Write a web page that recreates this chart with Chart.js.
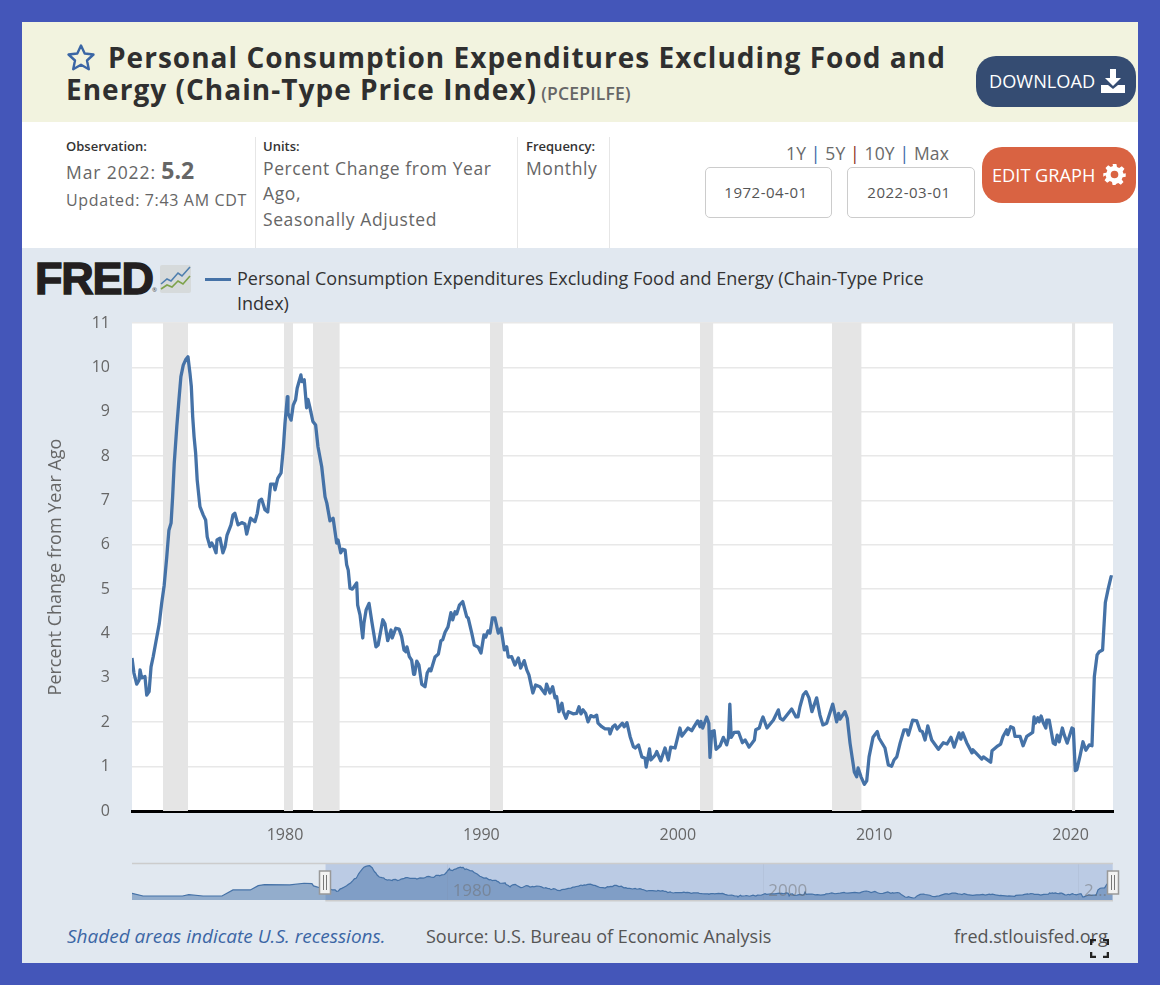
<!DOCTYPE html>
<html>
<head>
<meta charset="utf-8">
<title>PCEPILFE</title>
<script src="https://cdn.jsdelivr.net/npm/chart.js@4"></script>
<style>
html, body { margin: 0; padding: 0; width: 1160px; height: 985px; overflow: hidden; background: #4456b9; }
#page { position: absolute; left: 22px; top: 22px; width: 1116px; height: 941px; background: #e1e8f0; overflow: hidden; }
.abs { position: absolute; white-space: nowrap; }
#page * { font-family: "Open Sans", "Noto Sans", sans-serif; }
#head { left: 0; top: 0; width: 1116px; height: 100px; background: #f2f3df; }
#info { left: 0; top: 100px; width: 1116px; height: 126px; background: #fff; }
.title { font-weight: 700; font-size: 28px; line-height: 32px; color: #2f2f2f; letter-spacing: 1.02px; }
.lab { font-weight: 600; font-size: 13px; color: #333; line-height: 16px; }
.val { font-size: 17.5px; color: #666; letter-spacing: 0.6px; line-height: 25px; }
.sep { width: 1px; background: #e6e6e6; top: 115px; height: 111px; }
.dateBox { height: 49px; top: 145px; border: 1px solid #ccc; border-radius: 5px; background: #fff; font-size: 15px; line-height: 49px; color: #555; letter-spacing: 0.5px; text-align: center; }
.btn { color: #fff; font-size: 18.2px; border-radius: 20px; }
canvas { position: absolute; display: block; }
</style>
</head>
<body>
<div id="page">
  <div class="abs" id="head"></div>
  <div class="abs" id="info"></div>

  <svg class="abs" style="left:44px;top:21px" width="30" height="30" viewBox="0 0 30 30"><path d="M15 2.5l3.700 8 8.800 1-6.500 6 1.800 8.700-7.800-4.400-7.800 4.400 1.800-8.700-6.500-6 8.800-1z" fill="none" stroke="#3b66a5" stroke-width="2.400" stroke-linejoin="round"/></svg>
  <div class="abs title" style="left:86px;top:19px">Personal Consumption Expenditures Excluding Food and</div>
  <div class="abs title" style="left:44px;top:51px">Energy (Chain-Type Price Index) <span style="font-size:17.5px;font-weight:600;color:#666;letter-spacing:0.2px;margin-left:-4px">(PCEPILFE)</span></div>

  <div class="abs btn" style="left:954px;top:34px;width:160px;height:51px;background:#354c72"></div>
  <div class="abs btn" style="left:967px;top:34px;line-height:51px">DOWNLOAD</div>
  <svg class="abs" style="left:1078px;top:46px" width="26" height="26" viewBox="0 0 26 26"><path d="M10 1h6v9h5l-8 8-8-8h5z" fill="#fff"/><path d="M1 17h7l5 4 5-4h7v8H1z" fill="#fff"/></svg>

  <div class="abs lab" style="left:44px;top:116px">Observation:</div>
  <div class="abs val" style="left:44px;top:136px;letter-spacing:0.9px">Mar 2022: <span style="font-size:23px;font-weight:700;color:#666;letter-spacing:0">5.2</span></div>
  <div class="abs val" style="left:44px;top:166px;font-size:16px;letter-spacing:0.65px">Updated: 7:43 AM CDT</div>
  <div class="abs sep" style="left:233px"></div>
  <div class="abs lab" style="left:241px;top:116px">Units:</div>
  <div class="abs val" style="left:241px;top:134px">Percent Change from Year</div>
  <div class="abs val" style="left:241px;top:159px">Ago,</div>
  <div class="abs val" style="left:241px;top:185px">Seasonally Adjusted</div>
  <div class="abs sep" style="left:495px"></div>
  <div class="abs lab" style="left:504px;top:116px">Frequency:</div>
  <div class="abs val" style="left:504px;top:134px">Monthly</div>
  <div class="abs sep" style="left:587px"></div>

  <div class="abs val" style="left:764px;top:119px;color:#6a6a6a;letter-spacing:0.15px">1Y <span style="color:#3b66a5">|</span> 5Y <span style="color:#8c2a1c">|</span> 10Y <span style="color:#3b66a5">|</span> Max</div>
  <div class="abs dateBox" style="left:683px;width:125px;text-indent:-5px">1972-04-01</div>
  <div class="abs dateBox" style="left:825px;width:126px;text-indent:-4px">2022-03-01</div>
  <div class="abs btn" style="left:960px;top:125px;width:154px;height:56px;background:#d96342"></div>
  <div class="abs btn" style="left:970px;top:125px;line-height:56px">EDIT GRAPH</div>
  <svg class="abs" style="left:1081px;top:141px" width="23" height="23" viewBox="0 0 24 24"><path fill="#fff" fill-rule="evenodd" d="M10 1h4l.6 3.200 2.300 1 2.700-1.900 2.800 2.800-1.900 2.700 1 2.300L23.700 10.700v3.600l-3.200.6-1 2.300 1.900 2.700-2.800 2.800-2.700-1.900-2.300 1L13 23h-3l-.6-3.200-2.300-1-2.700 1.900-2.800-2.800 1.900-2.700-1-2.300L.3 14.300v-3.600l3.200-.6 1-2.300L2.600 5.100l2.800-2.800 2.700 1.900 2.300-1zM12 8a4 4 0 1 0 0 8 4 4 0 0 0 0-8z"/></svg>

  <div class="abs" style="left:13px;top:232px;font-family:'Liberation Sans',sans-serif;font-weight:700;font-size:45px;line-height:50px;letter-spacing:-1.2px;color:#231f20;-webkit-text-stroke:1.4px #231f20">FRED</div>
  <div class="abs" style="left:130px;top:264px;font-size:6px;line-height:8px;color:#444">&reg;</div>
  <svg class="abs" style="left:137px;top:242px" width="33" height="30" viewBox="0 0 33 30"><rect x="1" y="1" width="31" height="28" rx="2" fill="#d6dadb"/><polyline points="2,20 8,15 12,17 19,9 23,12 31,3" fill="none" stroke="#4f7fae" stroke-width="1.600"/><polyline points="2,25 8,21 13,23 19,17 24,20 31,12" fill="none" stroke="#7da24a" stroke-width="1.600"/></svg>
  <div class="abs" style="left:183px;top:256px;width:26px;height:3px;background:#4572a7"></div>
  <div class="abs" style="left:215px;top:244px;font-size:18px;line-height:25px;color:#333;font-weight:500">Personal Consumption Expenditures Excluding Food and Energy (Chain-Type Price<br>Index)</div>

  <canvas id="mainChart" width="1116" height="540" style="left:0;top:288px;width:1116px;height:540px"></canvas>
  <canvas id="navChart" width="1116" height="48" style="left:0;top:838px;width:1116px;height:48px"></canvas>

  <div class="abs" style="left:45px;top:901px;font-size:19px;font-style:italic;color:#3b66a5">Shaded areas indicate U.S. recessions.</div>
  <div class="abs" style="left:404px;top:902px;font-size:18px;color:#555">Source: U.S. Bureau of Economic Analysis</div>
  <div class="abs" style="left:932px;top:902px;font-size:18px;color:#555">fred.stlouisfed.org</div>
  <svg class="abs" style="left:1068px;top:917px" width="19" height="19" viewBox="0 0 19 19"><path d="M1 6V1h5M13 1h5v5M18 13v5h-5M6 18H1v-5" fill="none" stroke="#222" stroke-width="2.600"/></svg>
</div>

<script>
const obsYears = [
  1972.21,1972.31,1972.45,1972.57,1972.62,1972.70,1972.87,1972.96,1973.08,1973.18,
  1973.29,1973.43,1973.60,1973.72,1973.85,1973.98,1974.09,1974.20,1974.28,1974.36,
  1974.49,1974.60,1974.70,1974.82,1974.94,1975.06,1975.16,1975.23,1975.30,1975.37,
  1975.45,1975.53,1975.67,1975.84,1975.96,1976.04,1976.18,1976.27,1976.38,1976.49,
  1976.54,1976.69,1976.84,1976.95,1977.05,1977.25,1977.35,1977.45,1977.61,1977.80,
  1977.96,1978.05,1978.25,1978.47,1978.59,1978.69,1978.81,1978.98,1979.12,1979.27,
  1979.44,1979.49,1979.63,1979.80,1979.92,1980.00,1980.12,1980.15,1980.31,1980.42,
  1980.54,1980.62,1980.81,1980.86,1980.98,1981.10,1981.17,1981.27,1981.42,1981.56,
  1981.68,1981.87,1982.04,1982.13,1982.29,1982.45,1982.63,1982.70,1982.84,1982.94,
  1983.06,1983.14,1983.22,1983.31,1983.43,1983.65,1983.70,1983.82,1983.96,1984.02,
  1984.13,1984.28,1984.42,1984.63,1984.74,1984.98,1985.09,1985.23,1985.40,1985.46,
  1985.64,1985.81,1985.94,1986.06,1986.16,1986.21,1986.33,1986.45,1986.55,1986.60,
  1986.71,1986.82,1986.96,1987.13,1987.24,1987.35,1987.43,1987.64,1987.81,1987.94,
  1988.03,1988.15,1988.30,1988.45,1988.54,1988.66,1988.74,1988.88,1989.05,1989.25,
  1989.33,1989.51,1989.64,1989.84,1989.98,1990.13,1990.22,1990.34,1990.44,1990.56,
  1990.69,1990.86,1991.00,1991.17,1991.29,1991.37,1991.54,1991.71,1991.88,1992.00,
  1992.18,1992.31,1992.42,1992.62,1992.76,1992.98,1993.24,1993.32,1993.49,1993.63,
  1993.75,1993.83,1993.95,1994.10,1994.17,1994.31,1994.43,1994.67,1994.85,1994.97,
  1995.07,1995.18,1995.31,1995.43,1995.57,1995.73,1995.87,1995.94,1996.13,1996.30,
  1996.50,1996.55,1996.69,1996.81,1996.91,1997.18,1997.27,1997.41,1997.57,1997.74,
  1997.83,1998.00,1998.17,1998.34,1998.39,1998.56,1998.63,1998.85,1998.93,1999.13,
  1999.35,1999.52,1999.64,1999.86,2000.11,2000.21,2000.52,2000.71,2000.83,2001.01,
  2001.13,2001.18,2001.27,2001.47,2001.58,2001.64,2001.73,2001.85,2001.95,2002.15,
  2002.32,2002.49,2002.58,2002.65,2002.72,2002.87,2003.09,2003.29,2003.43,2003.63,
  2003.90,2003.97,2004.15,2004.24,2004.34,2004.54,2004.87,2005.12,2005.21,2005.36,
  2005.80,2006.02,2006.12,2006.22,2006.39,2006.53,2006.68,2006.83,2007.07,2007.24,
  2007.39,2007.58,2007.89,2008.09,2008.19,2008.26,2008.51,2008.63,2008.77,2008.99,
  2009.11,2009.18,2009.33,2009.50,2009.62,2009.74,2009.94,2010.16,2010.25,2010.55,
  2010.72,2010.89,2011.01,2011.15,2011.32,2011.52,2011.66,2011.74,2011.96,2012.17,
  2012.34,2012.45,2012.59,2012.73,2012.93,2013.27,2013.52,2013.71,2013.91,2014.07,
  2014.32,2014.41,2014.51,2014.71,2014.98,2015.03,2015.48,2015.56,2015.93,2016.00,
  2016.24,2016.44,2016.56,2016.75,2016.80,2016.95,2017.09,2017.17,2017.43,2017.58,
  2017.77,2018.07,2018.14,2018.21,2018.33,2018.40,2018.50,2018.60,2018.74,2018.79,
  2018.91,2019.00,2019.12,2019.22,2019.32,2019.42,2019.58,2019.68,2019.83,2020.07,
  2020.14,2020.24,2020.32,2020.49,2020.63,2020.78,2020.95,2021.09,2021.21,2021.35,
  2021.46,2021.63,2021.77,2021.92,2022.06,2022.14
];
const obsValues = [
  3.45,3.11,2.86,2.95,3.18,3.0,3.03,2.61,2.69,3.25,
  3.48,3.82,4.23,4.68,5.09,5.73,6.33,6.49,7.09,7.83,
  8.66,9.27,9.79,10.05,10.17,10.24,9.87,9.57,8.89,8.44,
  8.07,7.46,6.86,6.67,6.56,6.18,5.96,6.04,5.95,5.82,
  6.11,6.15,5.82,5.96,6.22,6.45,6.67,6.71,6.45,6.5,
  6.47,6.24,6.6,6.52,6.71,6.99,7.03,6.79,6.74,7.37,
  7.37,7.24,7.5,7.62,8.21,8.74,9.34,8.97,8.81,9.15,
  9.27,9.53,9.83,9.68,9.72,9.09,9.28,9.09,8.78,8.7,
  8.21,7.76,7.08,6.94,6.54,6.6,6.04,6.11,5.82,5.9,
  5.88,5.55,5.43,5.02,5.0,5.14,4.64,4.42,3.9,4.23,
  4.53,4.68,4.27,3.7,3.74,4.31,4.22,3.84,4.08,3.9,
  4.12,4.1,3.93,3.63,3.59,3.7,3.48,3.4,3.08,3.08,
  3.38,3.29,2.86,2.8,3.11,3.2,3.16,3.47,3.54,3.84,
  3.86,4.03,4.15,4.47,4.31,4.49,4.44,4.64,4.72,4.38,
  4.35,4.01,3.74,3.69,3.56,3.97,3.92,4.06,4.01,4.35,
  4.35,4.01,4.12,3.63,3.7,3.47,3.48,3.29,3.45,3.22,
  3.39,3.18,3.07,2.66,2.84,2.8,2.64,2.86,2.66,2.8,
  2.55,2.58,2.24,2.43,2.24,2.09,2.24,2.19,2.2,2.35,
  2.19,2.28,2.2,2.01,2.15,2.12,2.16,1.98,1.9,1.85,
  1.85,1.74,1.9,1.94,1.85,1.98,1.9,1.99,1.68,1.45,
  1.42,1.49,1.22,1.19,0.99,1.4,1.15,1.26,1.34,1.13,
  1.42,1.15,1.44,1.42,1.87,1.69,1.87,1.81,1.9,2.03,
  1.9,2.02,1.87,2.12,1.98,1.21,1.79,1.81,1.39,1.47,
  1.66,1.49,1.65,2.41,1.66,1.77,1.78,1.54,1.6,1.44,
  1.6,1.83,1.87,2.01,2.12,1.87,2.05,2.28,2.09,2.05,
  2.3,2.12,2.12,2.35,2.62,2.69,2.55,2.24,2.55,2.16,
  1.94,1.98,2.41,2.01,2.2,2.07,2.24,2.09,1.53,0.88,
  0.77,0.97,0.77,0.6,0.68,1.22,1.66,1.79,1.64,1.42,
  1.04,1.01,1.15,1.22,1.53,1.83,1.83,1.71,2.05,2.03,
  1.81,1.79,1.6,1.92,1.6,1.39,1.54,1.51,1.66,1.44,
  1.76,1.62,1.76,1.54,1.31,1.38,1.17,1.22,1.1,1.36,
  1.45,1.51,1.68,1.83,1.72,1.9,1.87,1.68,1.68,1.47,
  1.68,1.77,2.12,1.98,2.1,2.01,2.14,2.0,1.87,2.05,
  2.05,1.83,1.53,1.5,1.71,1.56,1.87,1.71,1.53,1.87,
  1.85,0.91,0.93,1.26,1.56,1.37,1.49,1.47,3.03,3.52,
  3.59,3.63,4.7,5.02,5.28,5.27
];
// part of the series only visible in the navigator
const earlyYears = [1960.0,1960.7,1961.6,1963.2,1963.6,1964.5,1965.7,1966.4,1967.5,1968.0,1968.4,1970.0,1970.9,1971.4,1971.5,1972.0];
const earlyValues = [2.0,1.2,1.2,1.2,1.6,1.2,1.2,3.0,3.0,4.3,4.6,4.5,5.0,4.9,4.2,3.5];

const recessionStarts = [1973.79,1979.95,1981.42,1990.44,2001.13,2007.85,2020.07];
const recessionEnds   = [1975.06,1980.41,1982.79,1991.10,2001.81,2009.36,2020.24];

const xTickYears = [1980,1990,2000,2010,2020];
const yTicks = [0,1,2,3,4,5,6,7,8,9,10,11];
const yTitle = "Percent Change from Year Ago";
const seriesName = "Personal Consumption Expenditures Excluding Food and Energy (Chain-Type Price Index)";

const navTickYears = [1980,2000,2020];
const navTickLabels = ["1980","2000","2\u2026"];
const rangeStart = 1972.25;
const rangeEnd = 2022.15;

const LINE_BLUE = "#4572a7";
const FONT = '"Open Sans", "Noto Sans", sans-serif';

const xyPoints = (xs, ys) => xs.map((x, i) => ({ x: x, y: ys[i] }));

const recessionSets = recessionStarts.map((start, i) => ({
    label: "Recession",
    data: [{ x: start, y: 11 }, { x: recessionEnds[i], y: 11 }],
    fill: "origin",
    backgroundColor: "#e5e5e5",
    borderWidth: 0,
    pointRadius: 0,
    order: 2
}));

// white plot area behind the gridlines
const plotBackground = {
    id: "plotBackground",
    beforeDraw(chart) {
        const a = chart.chartArea;
        chart.ctx.save();
        chart.ctx.fillStyle = "#ffffff";
        chart.ctx.fillRect(a.left, a.top, a.right - a.left, a.bottom - a.top);
        chart.ctx.restore();
    }
};

new Chart(document.getElementById("mainChart"), {
    type: "line",
    plugins: [plotBackground],
    data: {
        datasets: [{
            label: seriesName,
            data: xyPoints(obsYears, obsValues),
            borderColor: LINE_BLUE,
            borderWidth: 3.3,
            borderJoinStyle: "round",
            pointRadius: 0,
            tension: 0,
            fill: false,
            order: 1
        }].concat(recessionSets)
    },
    options: {
        responsive: false,
        animation: false,
        devicePixelRatio: 1,
        layout: { padding: { top: 13, right: 25, left: 0, bottom: 0 } },
        plugins: { legend: { display: false }, tooltip: { enabled: false } },
        scales: {
            x: {
                type: "linear",
                min: 1972.21,
                max: 2022.16,
                afterBuildTicks: ax => { ax.ticks = xTickYears.map(v => ({ value: v })); },
                afterFit: ax => { ax.height = 39; },
                grid: { display: false, drawTicks: false },
                border: { display: true, color: "#000000", width: 3 },
                ticks: {
                    autoSkip: false,
                    maxRotation: 0,
                    padding: 15,
                    color: "#666666",
                    font: { family: FONT, size: 16 },
                    callback: v => String(v)
                }
            },
            y: {
                min: 0,
                max: 11,
                afterBuildTicks: ax => { ax.ticks = yTicks.map(v => ({ value: v })); },
                // keep the plot area where the layout padding puts it
                afterFit: ax => { ax.width = 110; ax.paddingTop = 0; ax.paddingBottom = 0; },
                grid: { color: "#e8e8e8", lineWidth: 1.6, drawTicks: false },
                border: { display: false },
                ticks: {
                    padding: 22,
                    color: "#666666",
                    font: { family: FONT, size: 16 }
                },
                title: {
                    display: true,
                    text: yTitle,
                    color: "#666666",
                    font: { family: FONT, size: 18 },
                    padding: { top: 23, bottom: 0 }
                }
            }
        }
    }
});

// navigator: frame and the two drag handles at the selected range
const navHandles = {
    id: "navHandles",
    afterDraw(chart) {
        const ctx = chart.ctx, a = chart.chartArea, xs = chart.scales.x;
        ctx.save();
        ctx.strokeStyle = "#cccccc";
        ctx.lineWidth = 1.5;
        ctx.beginPath();
        ctx.moveTo(a.left, a.top - 0.5); ctx.lineTo(a.right, a.top - 0.5);
        ctx.moveTo(xs.getPixelForValue(rangeStart), a.bottom + 0.8); ctx.lineTo(a.right, a.bottom + 0.8);
        ctx.stroke();
        [rangeStart, rangeEnd].forEach(v => {
            const px = Math.round(xs.getPixelForValue(v));
            ctx.fillStyle = "#f2f2f2";
            ctx.strokeStyle = "#999999";
            ctx.lineWidth = 1.5;
            ctx.beginPath();
            ctx.rect(px - 5.5, a.top + 7, 11, 23);
            ctx.fill();
            ctx.stroke();
            ctx.strokeStyle = "#777777";
            ctx.lineWidth = 1;
            ctx.beginPath();
            ctx.moveTo(px - 1.5, a.top + 11); ctx.lineTo(px - 1.5, a.top + 26);
            ctx.moveTo(px + 1.5, a.top + 11); ctx.lineTo(px + 1.5, a.top + 26);
            ctx.stroke();
        });
        ctx.restore();
    }
};

new Chart(document.getElementById("navChart"), {
    type: "line",
    plugins: [navHandles],
    data: {
        datasets: [{
            label: seriesName,
            data: xyPoints(earlyYears.concat(obsYears), earlyValues.concat(obsValues)),
            borderColor: LINE_BLUE,
            borderWidth: 1.2,
            pointRadius: 0,
            tension: 0,
            fill: "origin",
            backgroundColor: "rgba(69, 114, 167, 0.5)",
            order: 1
        }, {
            label: "Selected range",
            data: [{ x: rangeStart, y: 10.75 }, { x: rangeEnd, y: 10.75 }],
            fill: "origin",
            backgroundColor: "#bbcbe4",
            borderWidth: 0,
            pointRadius: 0,
            order: 2
        }]
    },
    options: {
        responsive: false,
        animation: false,
        devicePixelRatio: 1,
        layout: { padding: { top: 4, right: 25, left: 110, bottom: 0 } },
        plugins: { legend: { display: false }, tooltip: { enabled: false } },
        scales: {
            x: {
                type: "linear",
                min: 1960,
                max: 2022.16,
                afterBuildTicks: ax => { ax.ticks = navTickYears.map(v => ({ value: v })); },
                afterFit: ax => { ax.height = 8; },
                grid: { color: "rgba(120,130,150,0.1)", drawTicks: false, z: 1 },
                border: { display: false },
                ticks: {
                    autoSkip: false,
                    maxRotation: 0,
                    mirror: true,
                    align: "start",
                    padding: -1,
                    labelOffset: 5,
                    z: 1,
                    color: "rgba(110,110,110,0.5)",
                    font: { family: FONT, size: 17 },
                    callback: (v, i) => navTickLabels[i]
                }
            },
            y: { display: false, min: 0, max: 10.75 }
        }
    }
});
</script>
</body>
</html>
